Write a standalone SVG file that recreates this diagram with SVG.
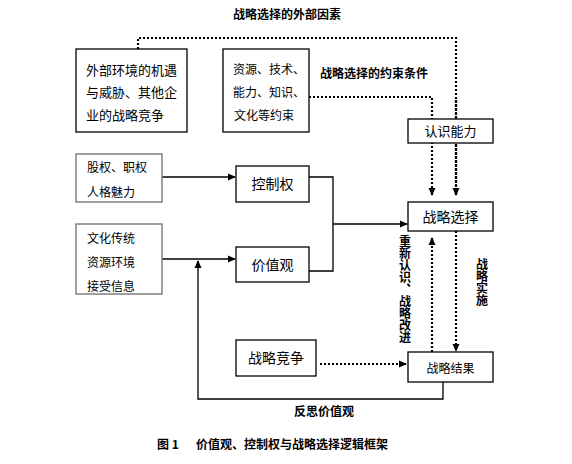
<svg xmlns="http://www.w3.org/2000/svg" width="572" height="464" viewBox="0 0 572 464">
<style>
.bx{fill:#fff;stroke:#000;stroke-width:1.3}
.gb{fill:#fff;stroke:#808080;stroke-width:1.5}
.t{font-family:"Noto Sans CJK SC","Noto Sans",sans-serif;fill:#000}
.b{font-family:"Noto Sans CJK SC","Noto Sans",sans-serif;font-weight:bold;fill:#000;font-size:12px}
.ln{fill:none;stroke:#000;stroke-width:1.3}
.dt{fill:none;stroke:#000;stroke-width:2.2;stroke-dasharray:2 2}
</style>
<defs>
<marker id="ah" markerWidth="8" markerHeight="8" refX="7" refY="4" orient="auto" markerUnits="userSpaceOnUse">
<path d="M0,0.5 L8,4 L0,7.5 Z" fill="#000"/>
</marker>
</defs>
<rect width="572" height="464" fill="#fff"/>
<g id="connectors">
<path class="dt" d="M138,49 V38 H456 V195"/>
<path class="dt" d="M309,97 H432 V195" marker-end="url(#ah)"/>
<path class="dt" d="M456,100 V195" marker-end="url(#ah)"/>
<path class="ln" d="M162,177 H235" marker-end="url(#ah)"/>
<path class="ln" d="M162,259 H235" marker-end="url(#ah)"/>
<path class="ln" d="M309,177 H333 V271 H309"/>
<path class="ln" d="M333,224 H407" marker-end="url(#ah)"/>
<path class="ln" d="M443,382 V399 H198 V261" marker-end="url(#ah)"/>
<path class="dt" d="M320,364 H406" marker-end="url(#ah)"/>
<path class="dt" d="M432,352 V238" marker-end="url(#ah)"/>
<path class="dt" d="M456,231 V351" marker-end="url(#ah)"/>
</g>
<g id="n-external">
<rect class="bx" x="76" y="49" width="111" height="83"/>
<text class="t" font-size="13" x="86" y="75">外部环境的机遇</text>
<text class="t" font-size="13" x="86" y="97">与威胁、其他企</text>
<text class="t" font-size="13" x="86" y="120">业的战略竞争</text>
</g>
<g id="n-resource">
<rect class="bx" x="223" y="49" width="86" height="83"/>
<text class="t" font-size="12" x="233" y="74">资源、技术、</text>
<text class="t" font-size="12" x="233" y="97">能力、知识、</text>
<text class="t" font-size="12" x="234" y="120">文化等约束</text>
</g>
<g id="n-cognition">
<rect class="bx" x="408" y="119" width="85" height="24"/>
<text class="t" font-size="13" x="450.5" y="136" text-anchor="middle">认识能力</text>
</g>
<g id="n-equity">
<rect class="gb" x="76" y="154" width="86" height="48"/>
<text class="t" font-size="12" x="87" y="172">股权、职权</text>
<text class="t" font-size="12" x="87" y="197">人格魅力</text>
</g>
<g id="n-control">
<rect class="bx" x="236" y="166" width="73" height="36"/>
<text class="t" font-size="14" x="272.5" y="189" text-anchor="middle">控制权</text>
</g>
<g id="n-choice">
<rect class="bx" x="408" y="202" width="85" height="29"/>
<text class="t" font-size="14" x="450.5" y="222" text-anchor="middle">战略选择</text>
</g>
<g id="n-culture">
<rect class="gb" x="76" y="224" width="86" height="70"/>
<text class="t" font-size="12" x="87" y="243">文化传统</text>
<text class="t" font-size="12" x="87" y="267">资源环境</text>
<text class="t" font-size="12" x="87" y="291">接受信息</text>
</g>
<g id="n-values">
<rect class="bx" x="236" y="247" width="73" height="35"/>
<text class="t" font-size="14" x="272.5" y="270" text-anchor="middle">价值观</text>
</g>
<g id="n-competition">
<rect class="bx" x="236" y="340" width="80" height="36"/>
<text class="t" font-size="14" x="276" y="363" text-anchor="middle">战略竞争</text>
</g>
<g id="n-result">
<rect class="bx" x="408" y="352" width="85" height="30"/>
<text class="t" font-size="12" x="450.5" y="373" text-anchor="middle">战略结果</text>
</g>
<g id="labels">
<text class="b" x="287" y="19" text-anchor="middle">战略选择的外部因素</text>
<text class="b" x="374" y="78" text-anchor="middle">战略选择的约束条件</text>
<text class="b" x="405" y="235" style="writing-mode:vertical-rl">重新认识、战略改进</text>
<text class="b" x="482" y="258" style="writing-mode:vertical-rl">战略实施</text>
<text class="b" x="324" y="416" text-anchor="middle">反思价值观</text>
<text class="b" x="157" y="449">图 1</text>
<text class="b" x="196" y="449">价值观、控制权与战略选择逻辑框架</text>
</g>
</svg>
